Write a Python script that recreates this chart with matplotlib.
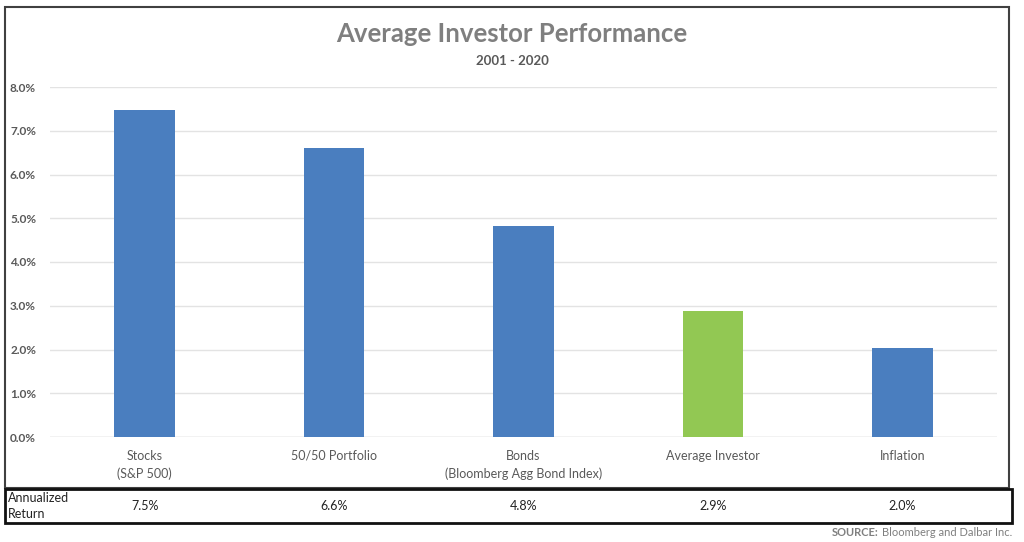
import matplotlib.pyplot as plt
from matplotlib.patches import Rectangle

categories = ["Stocks\n(S&P 500)", "50/50 Portfolio", "Bonds\n(Bloomberg Agg Bond Index)",
              "Average Investor", "Inflation"]
returns = [7.47, 6.61, 4.83, 2.89, 2.03]
table_labels = ["7.5%", "6.6%", "4.8%", "2.9%", "2.0%"]
bar_colors = ["#4a7ebf", "#4a7ebf", "#4a7ebf", "#92c853", "#4a7ebf"]
y_ticks = [0, 1, 2, 3, 4, 5, 6, 7, 8]

plt.rcParams['font.family'] = ['Lato', 'DejaVu Sans']
W, H = 1024, 542
fig = plt.figure(figsize=(W / 100, H / 100), dpi=100)

def fx(px):
    return px / W

def fy(py):
    return 1 - py / H

ax = fig.add_axes([fx(50), fy(437), fx(997) - fx(50), fy(87) - fy(437)])
x = list(range(len(categories)))
ax.bar(x, returns, width=0.32, color=bar_colors, zorder=3)
ax.set_xlim(-0.5, len(categories) - 0.5)
ax.set_ylim(0, 8)
ax.set_yticks(y_ticks)
ax.set_yticklabels([f"{v:.1f}%" for v in y_ticks], fontsize=8.5, color="#595959",
                   fontweight="bold")
ax.set_xticks(x)
ax.set_xticklabels(categories, fontsize=9, color="#595959", linespacing=1.6)
ax.tick_params(axis="both", length=0)
ax.tick_params(axis="x", pad=9)
ax.tick_params(axis="y", pad=10)
ax.grid(axis="y", color="#e3e3e3", linewidth=1, zorder=0)
for s in ax.spines.values():
    s.set_visible(False)
ax.axhline(0, color="#d9d9d9", linewidth=1, zorder=2)

fig.text(0.5, fy(34), "Average Investor Performance", ha="center", va="center",
         fontsize=18.5, fontweight="bold", color="#7f7f7f")
fig.text(0.5, fy(61), "2001 - 2020", ha="center", va="center",
         fontsize=9.5, fontweight="bold", color="#595959")

# outer chart frame and table frame
fig.patches.append(Rectangle((fx(5), fy(488)), fx(1009) - fx(5), fy(7) - fy(488),
                             transform=fig.transFigure, fill=False,
                             edgecolor="#404040", linewidth=1.5))
fig.patches.append(Rectangle((fx(5), fy(523)), fx(1012) - fx(5), fy(489) - fy(523),
                             transform=fig.transFigure, fill=False,
                             edgecolor="#111111", linewidth=2))

fig.text(fx(8), fy(506), "Annualized\nReturn", ha="left", va="center",
         fontsize=9, color="#222222", linespacing=1.4)
for i, lab in enumerate(table_labels):
    xp = ax.transData.transform((i, 0))[0] / W
    fig.text(xp, fy(506), lab, ha="center", va="center", fontsize=9, color="#222222")

src = fig.text(fx(1012), fy(533), "Bloomberg and Dalbar Inc.", ha="right",
               va="center", fontsize=8, color="#7f7f7f")
bb = src.get_window_extent(renderer=fig.canvas.get_renderer())
fig.text((bb.x0 - 3) / W, fy(533), "SOURCE:", ha="right", va="center",
         fontsize=8, fontweight="bold", color="#7f7f7f")

fig.savefig("out.png", dpi=100)
